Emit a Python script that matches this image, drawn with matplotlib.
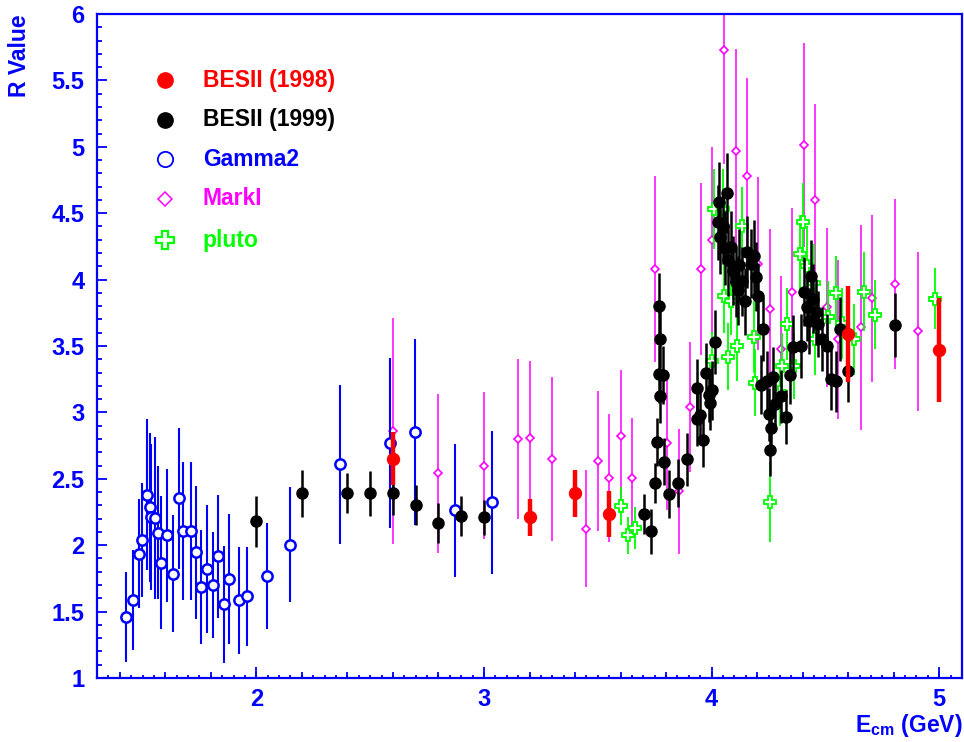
import numpy as np
import matplotlib
matplotlib.use("Agg")
import matplotlib.pyplot as plt
from matplotlib.ticker import MultipleLocator, FormatStrFormatter

bes98_e = [2.6, 3.2, 3.4, 3.55, 4.6, 5.0]
bes98_r = [2.65, 2.21, 2.39, 2.235, 3.59, 3.47]
bes98_err = [0.2, 0.14, 0.18, 0.17, 0.36, 0.39]

bes99_e = [2.0, 2.2, 2.4, 2.5, 2.6, 2.7, 2.8, 2.9, 3.0,
           3.704, 3.733, 3.752, 3.762, 3.770, 3.775, 3.771, 3.773, 3.785, 3.793,
           3.814, 3.853, 3.893, 3.934, 3.938, 3.95, 3.963, 3.975, 3.988, 3.993,
           4.003, 4.015, 4.030, 4.034, 4.038, 4.049, 4.057, 4.066, 4.074, 4.084,
           4.094, 4.106, 4.116, 4.122, 4.135, 4.145, 4.154, 4.172, 4.186, 4.196,
           4.205, 4.215, 4.226, 4.242, 4.253, 4.256, 4.26, 4.27, 4.278, 4.304,
           4.326, 4.345, 4.357, 4.392, 4.407, 4.417, 4.429, 4.436, 4.445, 4.458,
           4.467, 4.485, 4.507, 4.524, 4.546, 4.565, 4.598, 4.807]
bes99_r = [2.18, 2.39, 2.39, 2.39, 2.39, 2.30, 2.17, 2.22, 2.21,
           2.235, 2.105, 2.47, 2.78, 3.29, 3.12, 3.80, 3.556, 3.28, 2.63,
           2.386, 2.47, 2.647, 3.185, 2.95, 2.98, 2.79, 3.30, 3.13, 3.07,
           3.165, 3.53, 4.43, 4.585, 4.32, 4.40, 4.24, 4.65, 4.145, 4.245,
           4.065, 3.98, 3.92, 4.11, 3.987, 3.836, 4.21, 4.12, 4.18, 4.02,
           3.876, 3.21, 3.63, 3.24, 2.985, 2.72, 2.88, 3.27, 3.06, 3.12,
           2.965, 3.28, 3.49, 3.50, 3.91, 3.79, 3.69, 4.025, 3.855, 3.754,
           3.665, 3.55, 3.50, 3.25, 3.235, 3.63, 3.31, 3.66]
bes99_err = [0.19, 0.18, 0.15, 0.17, 0.16, 0.15, 0.15, 0.15, 0.13,
             0.15, 0.17, 0.15, 0.18, 0.22, 0.2, 0.25, 0.22, 0.22, 0.18,
             0.18, 0.18, 0.2, 0.22, 0.2, 0.2, 0.2, 0.22, 0.2, 0.2,
             0.22, 0.24, 0.28, 0.3, 0.28, 0.28, 0.28, 0.3, 0.27, 0.27,
             0.26, 0.26, 0.26, 0.27, 0.26, 0.25, 0.27, 0.26, 0.27, 0.26,
             0.25, 0.22, 0.24, 0.22, 0.2, 0.2, 0.2, 0.22, 0.2, 0.2,
             0.2, 0.22, 0.24, 0.24, 0.26, 0.25, 0.25, 0.27, 0.26, 0.25,
             0.25, 0.24, 0.24, 0.23, 0.23, 0.24, 0.23, 0.24]

gamma2_e = [1.429, 1.458, 1.486, 1.499, 1.518, 1.533, 1.539, 1.555, 1.570,
            1.583, 1.607, 1.633, 1.659, 1.680, 1.711, 1.733, 1.759, 1.785,
            1.809, 1.831, 1.856, 1.882, 1.925, 1.959, 2.045, 2.148,
            2.367, 2.589, 2.699, 2.871, 3.037]
gamma2_r = [1.46, 1.586, 1.935, 2.04, 2.38, 2.286, 2.21, 2.205, 2.095,
            1.867, 2.075, 1.784, 2.353, 2.105, 2.105, 1.947, 1.684, 1.82,
            1.70, 1.915, 1.554, 1.744, 1.584, 1.614, 1.767, 2.005,
            2.61, 2.77, 2.855, 2.263, 2.323]
gamma2_err = [0.34, 0.375, 0.41, 0.43, 0.57, 0.56, 0.55, 0.61, 0.5,
              0.5, 0.5, 0.44, 0.53, 0.52, 0.52, 0.5, 0.43, 0.48,
              0.4, 0.46, 0.44, 0.49, 0.4, 0.37, 0.4, 0.43,
              0.6, 0.64, 0.7, 0.5, 0.54]

markI_e = [2.6, 2.8, 3.0, 3.15, 3.2, 3.3, 3.45, 3.5, 3.55, 3.6, 3.65,
           3.75, 3.805, 3.855, 3.904, 3.952, 4.003, 4.053, 4.106, 4.154,
           4.204, 4.255, 4.304, 4.355, 4.406, 4.456, 4.507, 4.557, 4.656,
           4.703, 4.807, 4.906]
markI_r = [2.86, 2.54, 2.60, 2.80, 2.81, 2.65, 2.125, 2.634, 2.506, 2.82, 2.506,
           4.08, 2.767, 2.406, 3.04, 4.08, 4.295, 5.73, 4.97, 4.78,
           4.12, 3.78, 3.48, 3.91, 5.015, 4.60, 3.79, 3.55, 3.64,
           3.86, 3.97, 3.61]
markI_err = [0.85, 0.6, 0.55, 0.6, 0.58, 0.62, 0.44, 0.53, 0.48, 0.5, 0.45,
             0.7, 0.5, 0.47, 0.49, 0.65, 0.7, 0.86, 0.77, 0.74,
             0.65, 0.6, 0.55, 0.63, 0.77, 0.72, 0.6, 0.6, 0.77,
             0.63, 0.64, 0.6]

pluto_e = [3.6, 3.633, 3.662, 4.003, 4.01, 4.05, 4.053, 4.074, 4.087, 4.113,
           4.132, 4.186, 4.189, 4.256, 4.30, 4.311, 4.33, 4.36, 4.39, 4.40,
           4.419, 4.448, 4.454, 4.51, 4.546, 4.571, 4.624, 4.668, 4.718, 4.98]
pluto_r = [2.295, 2.075, 2.13, 3.386, 4.53, 4.53, 3.88, 3.42, 3.84, 3.50,
           4.40, 3.57, 3.225, 2.325, 3.15, 3.35, 3.665, 3.35, 4.19, 4.43,
           4.105, 3.975, 3.55, 3.72, 3.90, 3.67, 3.55, 3.91, 3.735, 3.857]
pluto_err = [0.14, 0.14, 0.16, 0.22, 0.3, 0.3, 0.28, 0.25, 0.26, 0.26,
             0.3, 0.27, 0.25, 0.3, 0.25, 0.25, 0.27, 0.25, 0.3, 0.3,
             0.3, 0.29, 0.27, 0.27, 0.28, 0.27, 0.27, 0.3, 0.26, 0.23]

BLUE = (0, 0, 1)
RED = (1, 0, 0)
MAGENTA = (1, 0, 1)
GREEN = (0, 1, 0)

plt.rcParams['font.family'] = ['Liberation Sans', 'DejaVu Sans']
plt.rcParams['font.weight'] = 'bold'
plt.rcParams['mathtext.fontset'] = 'custom'
plt.rcParams['mathtext.rm'] = 'Liberation Sans:bold'
plt.rcParams['mathtext.bf'] = 'Liberation Sans:bold'

fig = plt.figure(figsize=(9.64, 7.42), dpi=100)
ax = fig.add_axes([97 / 964, 1 - 678 / 742, 865 / 964, 664 / 742])

ax.errorbar(markI_e, markI_r, yerr=markI_err, fmt='D', ms=4.4, mfc='white',
            mec=MAGENTA, mew=1.2, ecolor=MAGENTA, elinewidth=1.1, capsize=0,
            zorder=2)
ax.errorbar(gamma2_e, gamma2_r, yerr=gamma2_err, fmt='o', ms=7.4, mfc='white',
            mec=BLUE, mew=1.8, ecolor=BLUE, elinewidth=1.5, capsize=0,
            zorder=2.5)
ax.errorbar(pluto_e, pluto_r, yerr=pluto_err, fmt='P', ms=8.8, mfc='white',
            mec=GREEN, mew=1.3, ecolor=GREEN, elinewidth=1.3, capsize=0,
            zorder=3)
ax.errorbar(bes99_e, bes99_r, yerr=bes99_err, fmt='o', ms=8, color='black',
            elinewidth=1.8, capsize=0, zorder=4)
ax.errorbar(bes98_e, bes98_r, yerr=bes98_err, fmt='o', ms=8.6, color=RED,
            elinewidth=3.2, capsize=0, zorder=5)

ax.set_xlim(1.3, 5.1)
ax.set_ylim(1, 6)

for s in ax.spines.values():
    s.set_color(BLUE)
    s.set_linewidth(1.6)

ax.xaxis.set_major_locator(MultipleLocator(1))
ax.xaxis.set_minor_locator(MultipleLocator(0.05))
ax.yaxis.set_major_locator(MultipleLocator(0.5))
ax.yaxis.set_minor_locator(MultipleLocator(0.1))
ax.yaxis.set_major_formatter(FormatStrFormatter('%g'))
ax.tick_params(which='both', direction='in', color=BLUE, labelcolor=BLUE,
               top=False, right=False, width=1.3, labelsize=17)
ax.tick_params(axis='x', which='major', length=8, pad=7)
ax.tick_params(axis='x', which='minor', length=2.4)
ax.tick_params(axis='y', which='major', length=7.5, pad=9)
ax.tick_params(axis='y', which='minor', length=3.8)

# medium ticks every 0.2 on the energy axis
sec = ax.secondary_xaxis('bottom')
sec.xaxis.set_major_locator(MultipleLocator(0.2))
sec.tick_params(direction='in', color=BLUE, length=4.2, width=1.3,
                labelbottom=False)
sec.spines['bottom'].set_visible(False)

fig.text(20 / 964, 1 - 14 / 742, 'R Value', rotation=90, ha='center',
         va='top', color=BLUE, fontsize=16.5, fontweight='bold')
fig.text(963 / 964, 1 - 739 / 742, r'$\mathbf{E_{cm}}$ (GeV)', ha='right',
         va='bottom', color=BLUE, fontsize=16.5, fontweight='bold')

# legend
leg_names = ['BESII (1998)', 'BESII (1999)', 'Gamma2', 'MarkI', 'pluto']
leg_colors = [RED, 'black', BLUE, MAGENTA, GREEN]
leg_styles = [dict(marker='o', ms=11, mfc=RED, mec=RED),
              dict(marker='o', ms=11, mfc='black', mec='black'),
              dict(marker='o', ms=11, mfc='white', mec=BLUE, mew=1.3),
              dict(marker='D', ms=7.5, mfc='white', mec=MAGENTA, mew=1.1),
              dict(marker='P', ms=12.5, mfc='white', mec=GREEN, mew=1.6)]
leg_y = [0.9006, 0.8404, 0.7816, 0.7214, 0.6596]
for name, col, st, yy in zip(leg_names, leg_colors, leg_styles, leg_y):
    ax.plot([0.0786], [yy], transform=ax.transAxes, ls='none', **st)
    ax.text(0.1225, yy, name, transform=ax.transAxes, color=col,
            fontsize=16.5, fontweight='bold', va='center', ha='left')

fig.savefig('out.png', dpi=100)
